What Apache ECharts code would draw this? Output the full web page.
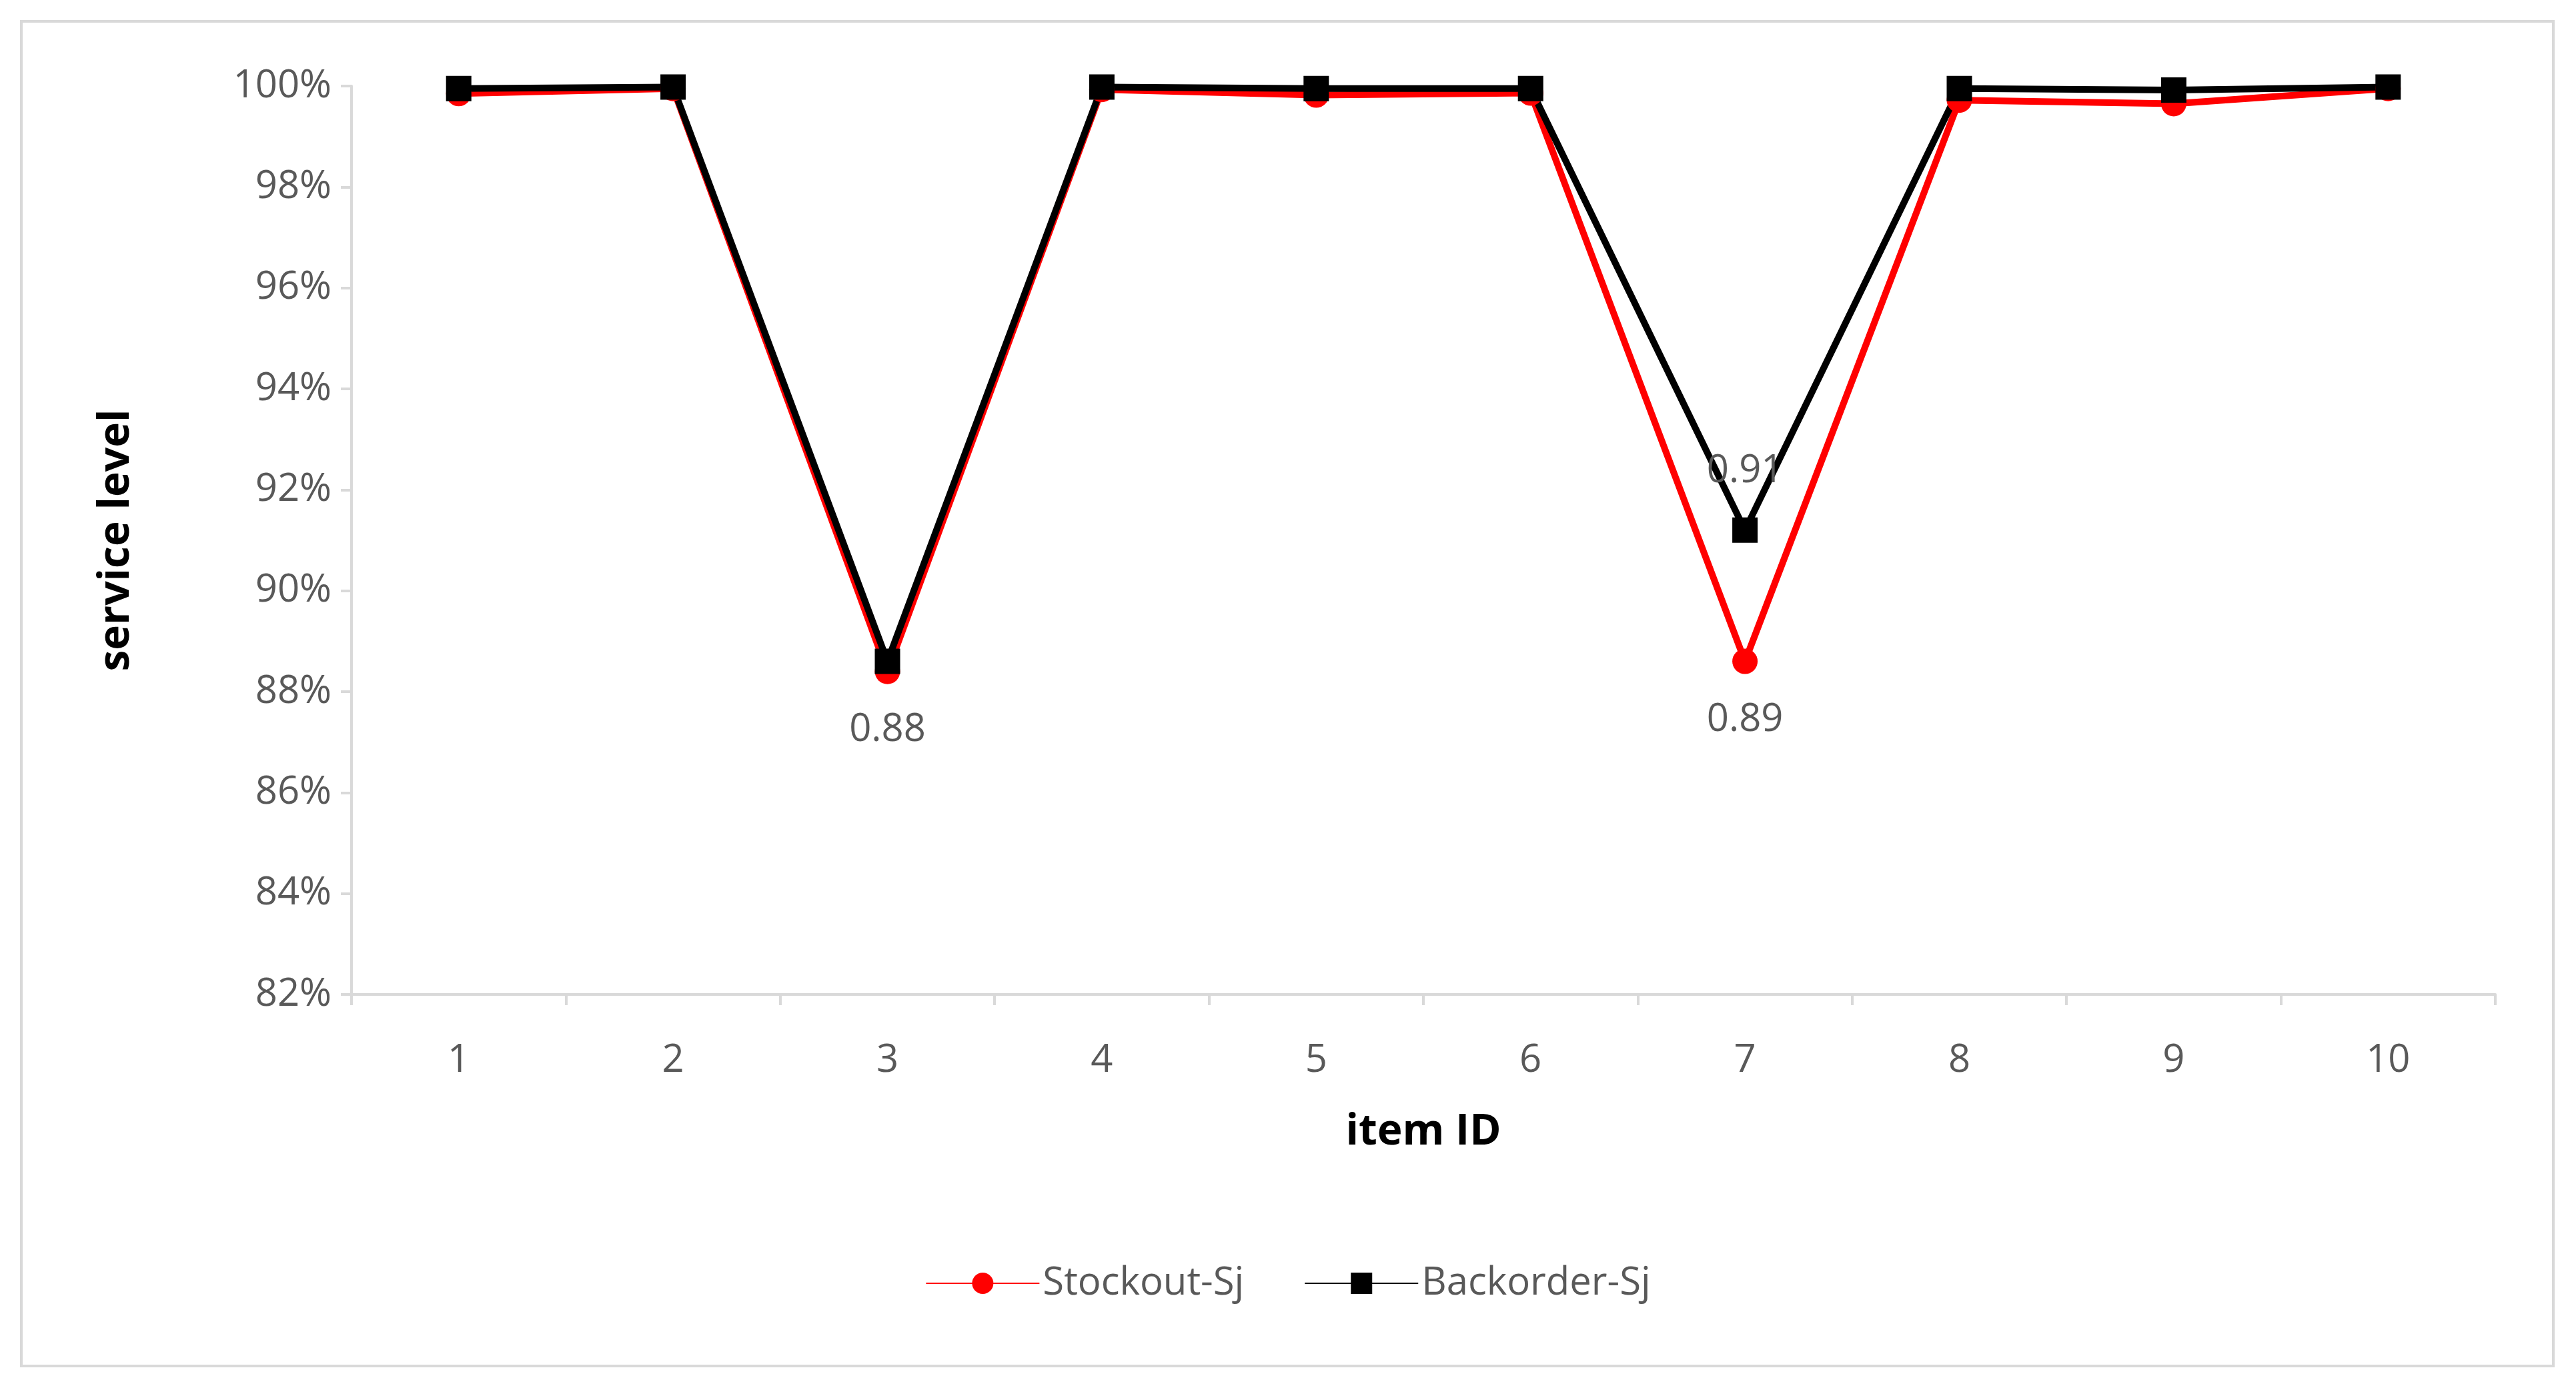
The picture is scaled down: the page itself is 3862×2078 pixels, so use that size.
<!DOCTYPE html>
<html>
<head>
<meta charset="utf-8">
<script src="https://cdn.jsdelivr.net/npm/echarts@6/dist/echarts.min.js"></script>
<style>
  html, body { margin: 0; padding: 0; background: #fff; }
  #chart { width: 3862px; height: 2078px; }
  #frame { position: absolute; left: 30px; top: 30px; width: 3800px; height: 2020px; border: 4px solid #d9d9d9; box-sizing: border-box; pointer-events: none; }
</style>
</head>
<body>
<div id="chart"></div>
<div id="frame"></div>
<script>
// 数据
var categories = ['1', '2', '3', '4', '5', '6', '7', '8', '9', '10'];
var stockout = [0.9985, 0.9995, 0.8840, 0.9993, 0.9982, 0.9986, 0.8860, 0.9972, 0.9965, 0.9995];
var backorder = [0.9995, 0.9998, 0.8860, 0.9998, 0.9995, 0.9995, 0.9120, 0.9995, 0.9992, 0.9998];
var stockoutLabelIdx = [2, 6];
var backorderLabelIdx = [6];
var yTicks = [0.82, 0.84, 0.86, 0.88, 0.90, 0.92, 0.94, 0.96, 0.98, 1.00];

var font = 'Open Sans';
var grey = '#595959';

function withLabels(values, idx, pos) {
  return values.map(function (v, i) {
    if (idx.indexOf(i) < 0) return v;
    return {
      value: v,
      label: {
        show: true, position: pos, distance: 40,
        formatter: function (p) { return p.value.toFixed(2); },
        fontFamily: font, fontSize: 58, color: grey
      }
    };
  });
}

var chart = echarts.init(document.getElementById('chart'));
var option = {
  animation: false,
  grid: { left: 527, right: 121, top: 129, bottom: 587 },
  legend: {
    bottom: 120, left: 'center',
    itemWidth: 170, itemHeight: 40, itemGap: 90,
    textStyle: { fontFamily: font, fontSize: 58, color: grey },
    data: ['Stockout-Sj', 'Backorder-Sj']
  },
  xAxis: {
    type: 'category',
    data: categories,
    name: 'item ID',
    nameLocation: 'middle',
    nameGap: 175,
    nameTextStyle: { fontFamily: font, fontSize: 64, fontWeight: 'bold', color: '#000' },
    axisLine: { lineStyle: { color: '#d9d9d9', width: 4 } },
    axisTick: { show: true, length: 16, lineStyle: { color: '#d9d9d9', width: 4 } },
    axisLabel: { fontFamily: font, fontSize: 58, color: grey, margin: 70 }
  },
  yAxis: {
    type: 'value',
    min: 0.82, max: 1.0, interval: 0.02,
    name: 'service level',
    nameLocation: 'middle',
    nameGap: 320,
    nameTextStyle: { fontFamily: font, fontSize: 64, fontWeight: 'bold', color: '#000' },
    axisLine: { show: true, lineStyle: { color: '#d9d9d9', width: 4 } },
    axisTick: { show: true, length: 16, lineStyle: { color: '#d9d9d9', width: 4 } },
    splitLine: { show: false },
    axisLabel: {
      fontFamily: font, fontSize: 58, color: grey, margin: 30,
      formatter: function (v) { return Math.round(v * 100) + '%'; }
    }
  },
  series: [{
    name: 'Stockout-Sj',
    type: 'line',
    data: withLabels(stockout, stockoutLabelIdx, 'bottom'),
    symbol: 'circle', symbolSize: 38,
    lineStyle: { color: '#ff0000', width: 10 },
    itemStyle: { color: '#ff0000' }
  }, {
    name: 'Backorder-Sj',
    type: 'line',
    data: withLabels(backorder, backorderLabelIdx, 'top'),
    symbol: 'rect', symbolSize: 38,
    lineStyle: { color: '#000', width: 10 },
    itemStyle: { color: '#000' }
  }]
};
chart.setOption(option);
</script>
</body>
</html>
